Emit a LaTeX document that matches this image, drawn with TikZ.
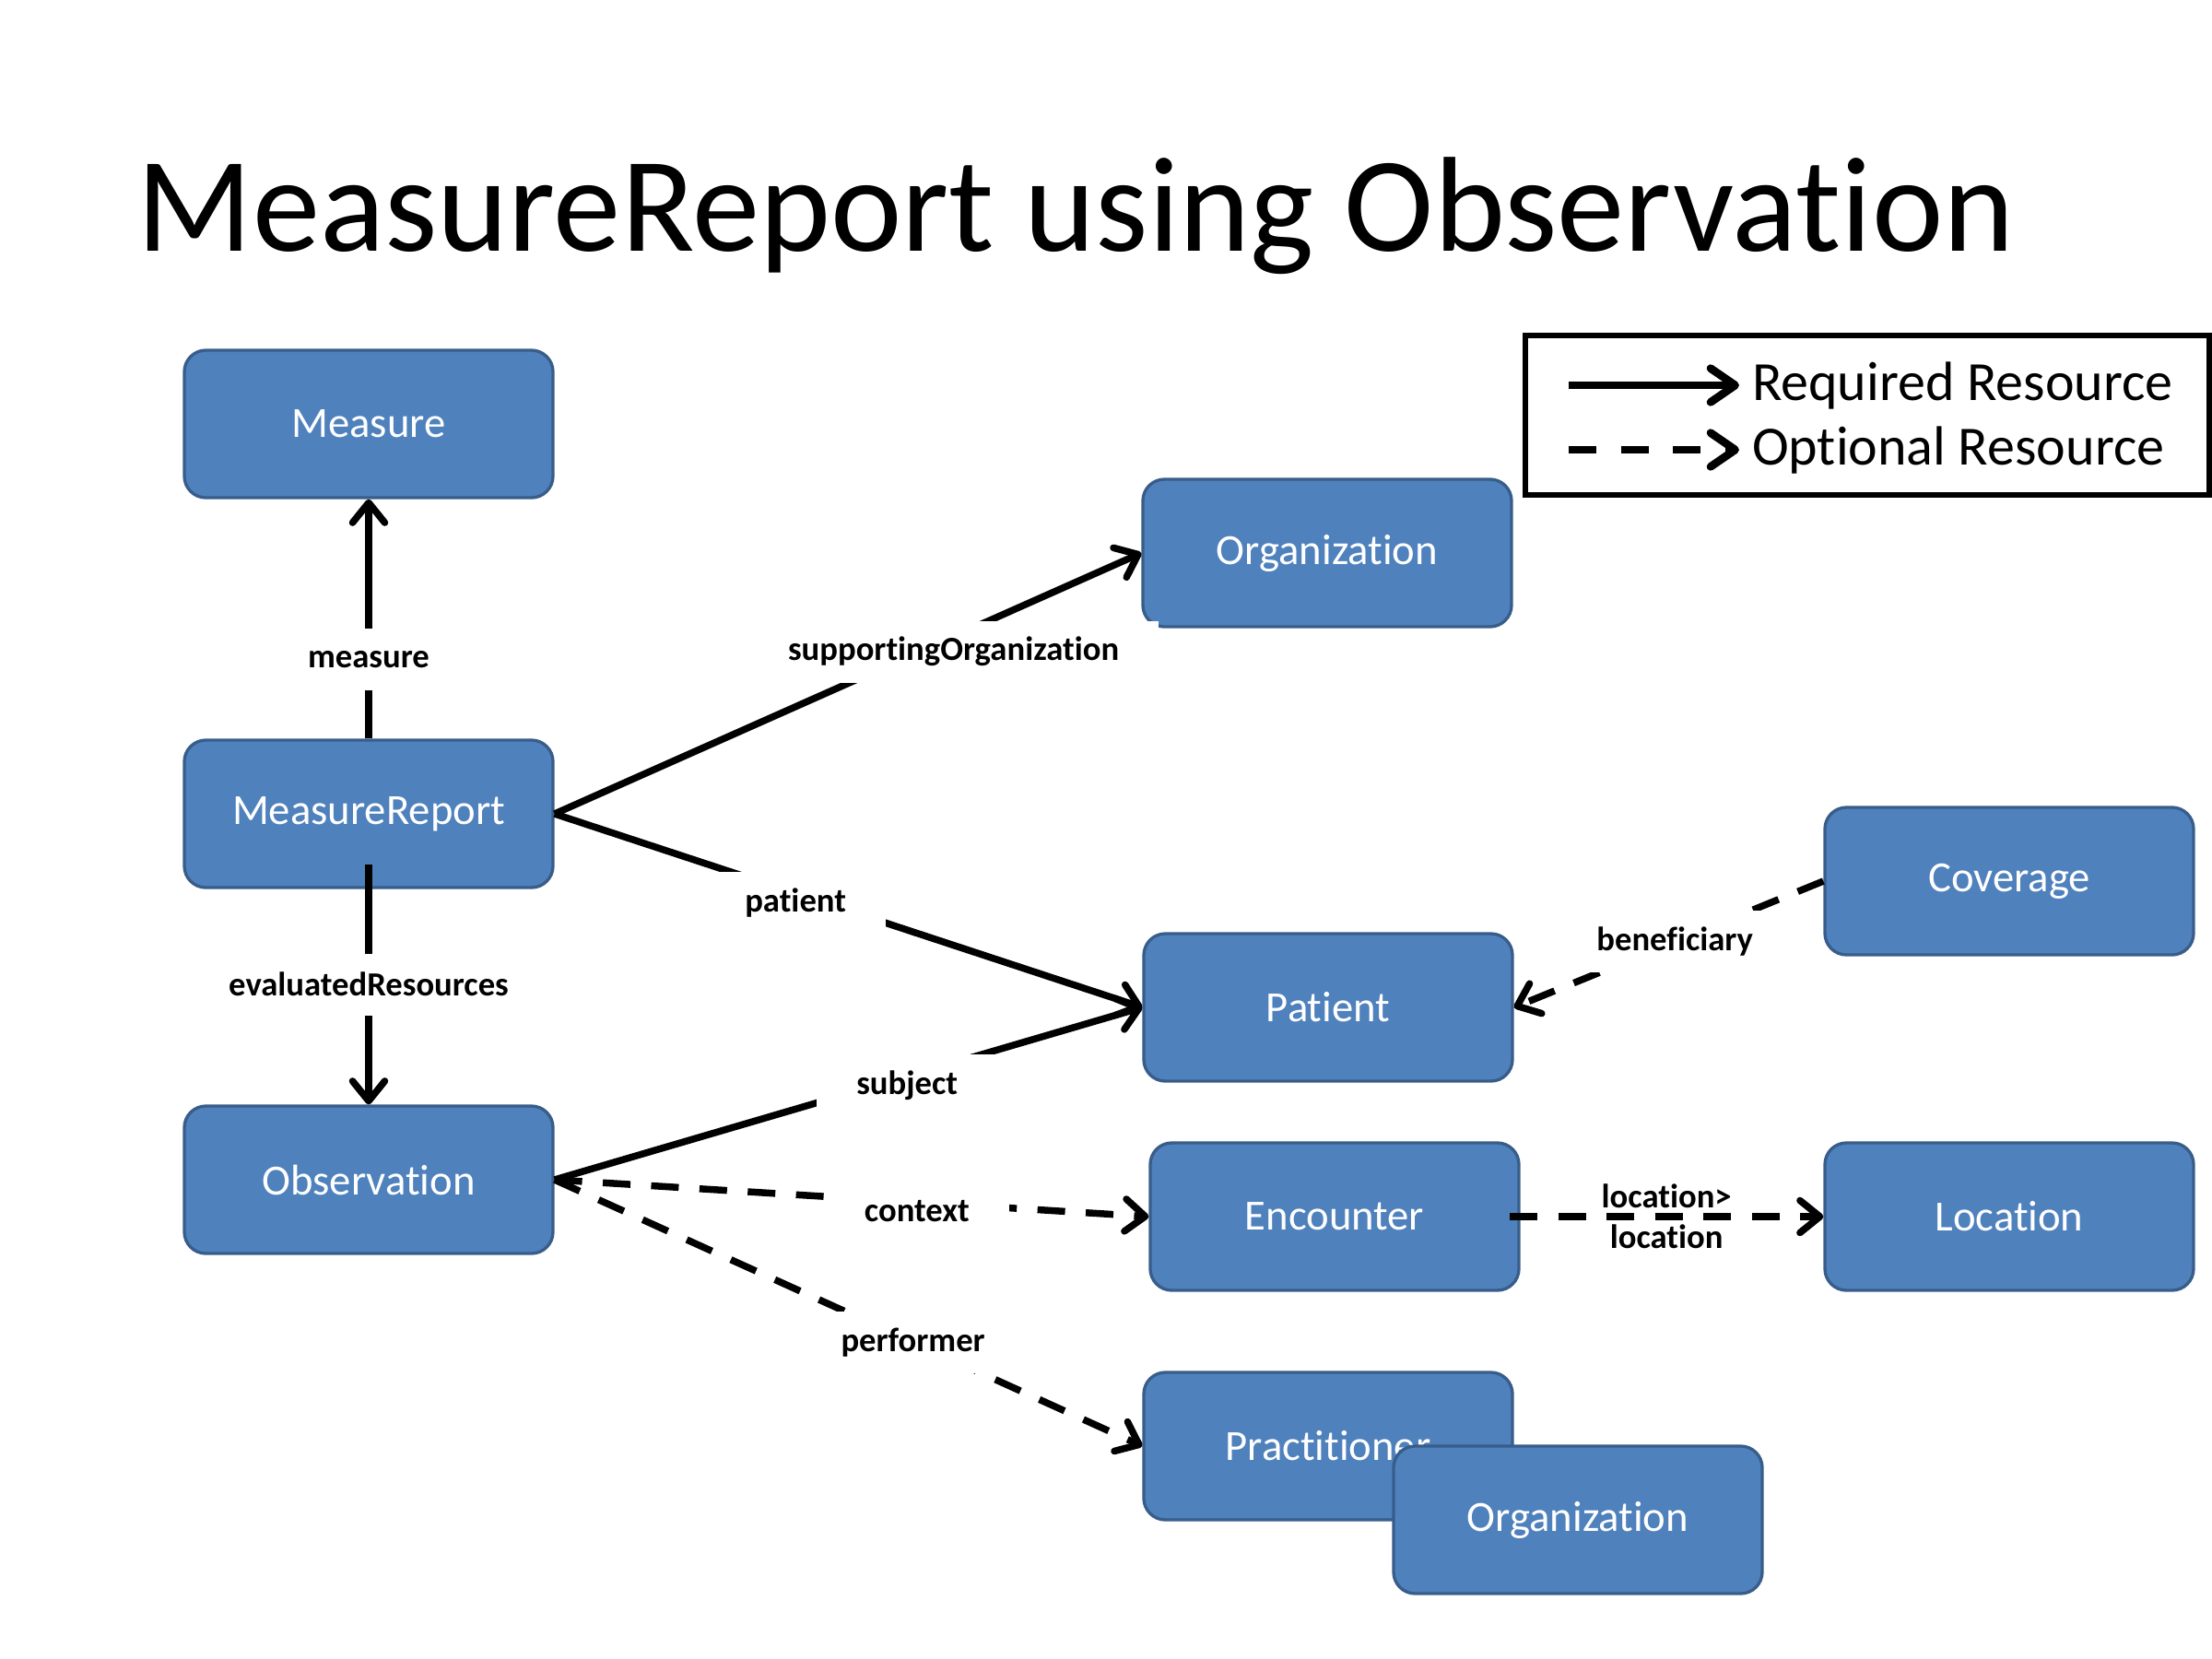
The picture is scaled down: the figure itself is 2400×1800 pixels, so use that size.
\documentclass[tikz,border=0pt]{standalone}
\usepackage{fontspec}
\setmainfont{Carlito}[Ligatures=NoCommon]
\usetikzlibrary{arrows.meta}

\definecolor{boxfill}{RGB}{79,129,189}
\definecolor{boxline}{RGB}{56,93,138}

\tikzset{
  res/.style={draw=boxline, line width=1pt, fill=boxfill, rounded corners=7pt,
    minimum width=120pt, minimum height=48pt, inner sep=0pt, text=white,
    font=\fontsize{14}{16.8}\selectfont},
  lbl/.style={fill=white, inner xsep=13pt, inner ysep=0pt, minimum height=20pt,
    font=\bfseries\fontsize{11}{13.2}\selectfont},
  req/.style={line width=2.25pt, -{Straight Barb[round, length=6.5pt, width=10.5pt]}},
  opt/.style={req, dash pattern=on 9pt off 6.75pt},
  keyreq/.style={line width=2.6pt, -{Straight Barb[round, length=8pt, width=11pt]}},
  keyopt/.style={keyreq, dash pattern=on 9pt off 8pt},
  keytext/.style={anchor=west, inner sep=4pt, font=\fontsize{18}{21.6}\selectfont},
}

\begin{document}
\begin{tikzpicture}[x=0.3pt,y=0.3pt,yscale=-1,xscale=1]
\useasboundingbox (0,0) rectangle (2400,1800);

% Title
\node (title) [anchor=base west, inner sep=0pt, font=\fontsize{44}{52.8}\selectfont] at (148,272) {MeasureReport using Observation};

%Shape: Rounded Rect
\node (meas) [res] at (400,460) {Measure};
\node (mrep) [res] at (400,883) {MeasureReport};
\node (obs) [res] at (400,1280) {Observation};
\node (org) [res] at (1440,600) {Organization};
\node (pat) [res] at (1441,1093) {Patient};
\node (enc) [res] at (1448,1320) {Encounter};
\node (prac) [res] at (1441,1569) {Practitioner};
\node (porg) [res] at (1712,1649) {Organization};
\node (cov) [res] at (2180,956) {Coverage};
\node (loc) [res] at (2180,1320) {Location};

%Legend
\node (key) [draw, line width=2pt, inner sep=0pt, minimum width=222.6pt, minimum height=51.9pt] at (2026,450.5) {};
\node (reqtxt) [keytext] at (1887,418) {Required Resource};
\node (opttxt) [keytext] at (1887,488) {Optional Resource};
\coordinate (reqstart) at (1702,418);
\coordinate (optstart) at (1702,488);
\draw [keyreq] (reqstart) -- (reqtxt.west);
\draw [keyopt] (optstart) -- (opttxt.west);

%Straight Lines
\draw [req] (mrep.north) -- node [lbl, pos=0.33] (lmeas) {measure} (meas.south);
\draw [req] ([yshift=-8pt]mrep.south) -- node [lbl] (leval) {evaluatedResources} (obs.north);
\draw [req] (mrep.east) -- node [lbl, pos=0.68, yshift=-5pt] (lsupp) {supportingOrganization} (org.west);
\draw [req] (mrep.east) -- node [lbl, pos=0.41, yshift=-3pt] (lpat) {patient} (pat.west);
\draw [req] (obs.east) -- node [lbl, pos=0.6, yshift=-3pt] (lsubj) {subject} (pat.west);
\draw [opt] (obs.east) -- node [lbl, pos=0.61, yshift=-3pt] (lctx) {context} (enc.west);
\draw [opt] (obs.east) -- node [lbl, pos=0.61] (lperf) {performer} (prac.west);
\draw [opt] (cov.west) -- node [lbl, pos=0.48] (lben) {beneficiary} (pat.east);
\draw [opt] ([xshift=-3.5pt]enc.east) -- node [align=center, inner sep=0pt, font=\bfseries\fontsize{11}{13.2}\selectfont] (lloc) {location>\\location} (loc.west);
\end{tikzpicture}
\end{document}
